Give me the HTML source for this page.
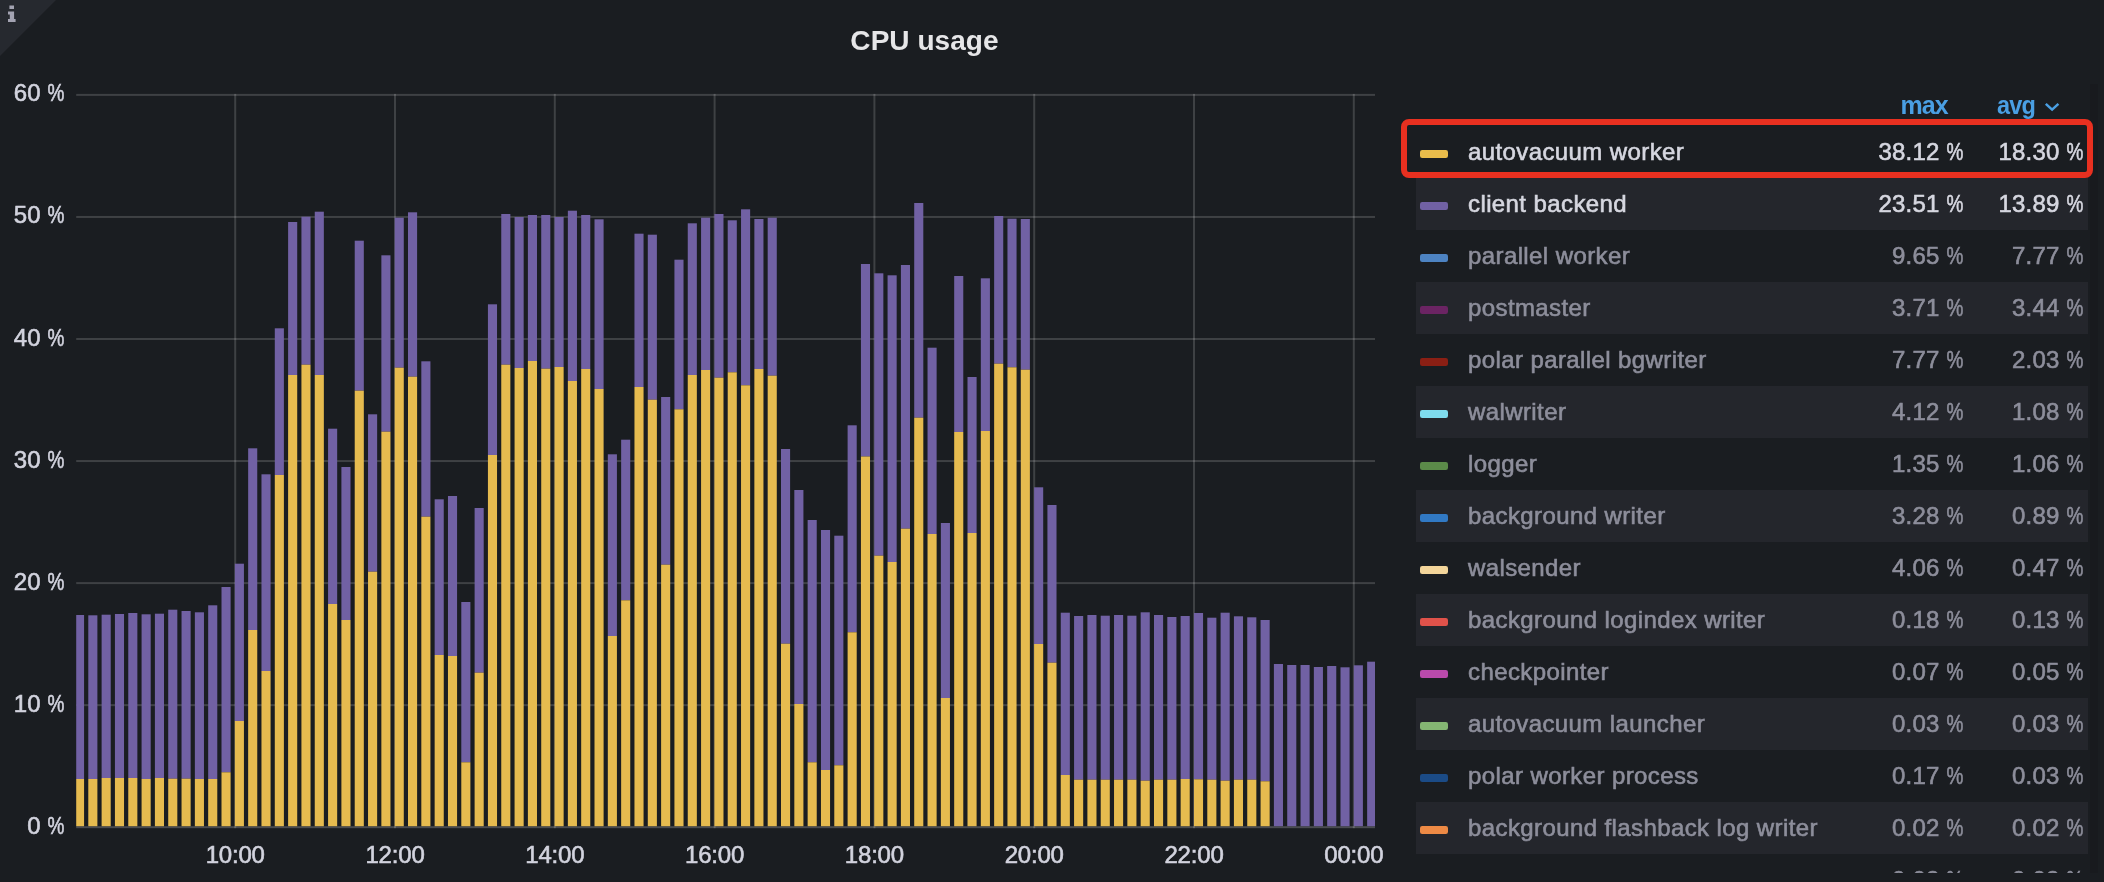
<!DOCTYPE html>
<html><head><meta charset="utf-8"><title>CPU usage</title>
<style>
html,body{margin:0;padding:0}
body{width:2104px;height:882px;overflow:hidden;background:#1a1d21;position:relative;font-family:"Liberation Sans",sans-serif;color:#d2d3de}
.txt{position:absolute;left:0;top:0;width:2104px;height:882px;will-change:transform}
.corner{position:absolute;left:0;top:0;width:0;height:0;border-top:56px solid #26292f;border-right:56px solid transparent}
.title{position:absolute;left:0;top:23px;width:1849px;text-align:center;font-size:28px;line-height:36px;font-weight:bold;color:#e6e6e8;letter-spacing:0.05px}
.yl,.xl,.row{-webkit-text-stroke:0.6px currentColor}
.yl{position:absolute;left:0;width:64px;text-align:right;font-size:24px;line-height:30px;height:30px;color:#d2d3de;white-space:nowrap}
.xl{position:absolute;top:840px;width:100px;text-align:center;font-size:24px;line-height:30px;color:#d2d3de;white-space:nowrap;letter-spacing:-0.2px}
.legend{position:absolute;left:0;top:0;width:2104px;height:872.5px;overflow:hidden}
.row{position:absolute;left:1416px;width:672px;height:52px;font-size:24px;line-height:52px;color:#8d8e9b;white-space:nowrap}
.row.alt{background:#24262c}
.row.on{color:#d6d7e0}
.pc{display:inline-block;transform:scaleX(0.79);transform-origin:right center;margin-left:-4.5px}
.sw{position:absolute;left:4px;top:23.8px;width:28px;height:8.4px;border-radius:2.2px}
.nm{position:absolute;left:52px;top:0;letter-spacing:0.4px}
.mx{position:absolute;right:124.5px;top:0;text-align:right;letter-spacing:0.2px}
.av{position:absolute;right:4.5px;top:0;text-align:right;letter-spacing:0.2px}
.hd{position:absolute;top:90px;font-size:25px;line-height:30px;font-weight:bold;color:#4a9fe3;white-space:nowrap;letter-spacing:-0.9px}
.red{position:absolute;left:1400.5px;top:118.9px;width:680.1px;height:47px;border:6.2px solid #e83020;border-radius:8px;box-sizing:content-box}
</style></head><body>
<div class="corner"></div>
<svg width="24" height="24" viewBox="0 0 24 24" style="position:absolute;left:0;top:0"><path d="M9.4 5.4h4.6v3.7H9.4z M8 11.6h6.1v7.3h1.5v3H8v-3h1.8v-4.4H8z" fill="#a3a3b2"/></svg>
<div class="txt"><div class="title">CPU usage</div>
<svg width="2104" height="882" viewBox="0 0 2104 882" style="position:absolute;left:0;top:0" shape-rendering="auto"><defs><clipPath id="c"><rect x="76.2" y="80" width="1298.8" height="760"/></clipPath></defs><rect x="76.2" y="93.90" width="1298.8" height="2" fill="rgba(255,255,255,0.16)"/><rect x="76.2" y="215.95" width="1298.8" height="2" fill="rgba(255,255,255,0.16)"/><rect x="76.2" y="338.00" width="1298.8" height="2" fill="rgba(255,255,255,0.16)"/><rect x="76.2" y="460.05" width="1298.8" height="2" fill="rgba(255,255,255,0.16)"/><rect x="76.2" y="582.10" width="1298.8" height="2" fill="rgba(255,255,255,0.16)"/><rect x="76.2" y="704.15" width="1298.8" height="2" fill="rgba(255,255,255,0.16)"/><rect x="76.2" y="826.20" width="1298.8" height="2" fill="rgba(255,255,255,0.21)"/><rect x="234.20" y="93.9" width="2" height="734.30" fill="rgba(255,255,255,0.16)"/><rect x="394.00" y="93.9" width="2" height="734.30" fill="rgba(255,255,255,0.16)"/><rect x="553.80" y="93.9" width="2" height="734.30" fill="rgba(255,255,255,0.16)"/><rect x="713.60" y="93.9" width="2" height="734.30" fill="rgba(255,255,255,0.16)"/><rect x="873.40" y="93.9" width="2" height="734.30" fill="rgba(255,255,255,0.16)"/><rect x="1033.20" y="93.9" width="2" height="734.30" fill="rgba(255,255,255,0.16)"/><rect x="1193.00" y="93.9" width="2" height="734.30" fill="rgba(255,255,255,0.16)"/><rect x="1352.80" y="93.9" width="2" height="734.30" fill="rgba(255,255,255,0.16)"/><g clip-path="url(#c)"><rect x="74.97" y="615.00" width="9.1" height="164.00" fill="#7161a4"/><rect x="74.97" y="779.00" width="9.1" height="47.20" fill="#e6bb4f"/><rect x="88.29" y="615.30" width="9.1" height="163.70" fill="#7161a4"/><rect x="88.29" y="779.00" width="9.1" height="47.20" fill="#e6bb4f"/><rect x="101.61" y="614.70" width="9.1" height="163.30" fill="#7161a4"/><rect x="101.61" y="778.00" width="9.1" height="48.20" fill="#e6bb4f"/><rect x="114.93" y="614.00" width="9.1" height="164.00" fill="#7161a4"/><rect x="114.93" y="778.00" width="9.1" height="48.20" fill="#e6bb4f"/><rect x="128.26" y="613.00" width="9.1" height="165.00" fill="#7161a4"/><rect x="128.26" y="778.00" width="9.1" height="48.20" fill="#e6bb4f"/><rect x="141.58" y="614.30" width="9.1" height="164.70" fill="#7161a4"/><rect x="141.58" y="779.00" width="9.1" height="47.20" fill="#e6bb4f"/><rect x="154.90" y="613.70" width="9.1" height="164.30" fill="#7161a4"/><rect x="154.90" y="778.00" width="9.1" height="48.20" fill="#e6bb4f"/><rect x="168.22" y="609.70" width="9.1" height="169.00" fill="#7161a4"/><rect x="168.22" y="778.70" width="9.1" height="47.50" fill="#e6bb4f"/><rect x="181.54" y="611.00" width="9.1" height="167.70" fill="#7161a4"/><rect x="181.54" y="778.70" width="9.1" height="47.50" fill="#e6bb4f"/><rect x="194.86" y="612.30" width="9.1" height="166.70" fill="#7161a4"/><rect x="194.86" y="779.00" width="9.1" height="47.20" fill="#e6bb4f"/><rect x="208.18" y="605.30" width="9.1" height="173.70" fill="#7161a4"/><rect x="208.18" y="779.00" width="9.1" height="47.20" fill="#e6bb4f"/><rect x="221.50" y="587.00" width="9.1" height="185.30" fill="#7161a4"/><rect x="221.50" y="772.30" width="9.1" height="53.90" fill="#e6bb4f"/><rect x="234.83" y="563.70" width="9.1" height="157.30" fill="#7161a4"/><rect x="234.83" y="721.00" width="9.1" height="105.20" fill="#e6bb4f"/><rect x="248.15" y="448.30" width="9.1" height="181.70" fill="#7161a4"/><rect x="248.15" y="630.00" width="9.1" height="196.20" fill="#e6bb4f"/><rect x="261.47" y="474.30" width="9.1" height="196.70" fill="#7161a4"/><rect x="261.47" y="671.00" width="9.1" height="155.20" fill="#e6bb4f"/><rect x="274.79" y="328.30" width="9.1" height="146.70" fill="#7161a4"/><rect x="274.79" y="475.00" width="9.1" height="351.20" fill="#e6bb4f"/><rect x="288.11" y="222.00" width="9.1" height="153.00" fill="#7161a4"/><rect x="288.11" y="375.00" width="9.1" height="451.20" fill="#e6bb4f"/><rect x="301.43" y="216.70" width="9.1" height="148.00" fill="#7161a4"/><rect x="301.43" y="364.70" width="9.1" height="461.50" fill="#e6bb4f"/><rect x="314.75" y="211.70" width="9.1" height="163.30" fill="#7161a4"/><rect x="314.75" y="375.00" width="9.1" height="451.20" fill="#e6bb4f"/><rect x="328.07" y="428.70" width="9.1" height="175.30" fill="#7161a4"/><rect x="328.07" y="604.00" width="9.1" height="222.20" fill="#e6bb4f"/><rect x="341.40" y="467.00" width="9.1" height="153.00" fill="#7161a4"/><rect x="341.40" y="620.00" width="9.1" height="206.20" fill="#e6bb4f"/><rect x="354.72" y="240.70" width="9.1" height="150.00" fill="#7161a4"/><rect x="354.72" y="390.70" width="9.1" height="435.50" fill="#e6bb4f"/><rect x="368.04" y="414.30" width="9.1" height="157.40" fill="#7161a4"/><rect x="368.04" y="571.70" width="9.1" height="254.50" fill="#e6bb4f"/><rect x="381.36" y="255.30" width="9.1" height="176.40" fill="#7161a4"/><rect x="381.36" y="431.70" width="9.1" height="394.50" fill="#e6bb4f"/><rect x="394.68" y="217.70" width="9.1" height="150.00" fill="#7161a4"/><rect x="394.68" y="367.70" width="9.1" height="458.50" fill="#e6bb4f"/><rect x="408.00" y="212.30" width="9.1" height="164.40" fill="#7161a4"/><rect x="408.00" y="376.70" width="9.1" height="449.50" fill="#e6bb4f"/><rect x="421.32" y="361.30" width="9.1" height="155.40" fill="#7161a4"/><rect x="421.32" y="516.70" width="9.1" height="309.50" fill="#e6bb4f"/><rect x="434.65" y="499.30" width="9.1" height="155.70" fill="#7161a4"/><rect x="434.65" y="655.00" width="9.1" height="171.20" fill="#e6bb4f"/><rect x="447.97" y="496.00" width="9.1" height="160.00" fill="#7161a4"/><rect x="447.97" y="656.00" width="9.1" height="170.20" fill="#e6bb4f"/><rect x="461.29" y="602.00" width="9.1" height="160.30" fill="#7161a4"/><rect x="461.29" y="762.30" width="9.1" height="63.90" fill="#e6bb4f"/><rect x="474.61" y="508.00" width="9.1" height="164.70" fill="#7161a4"/><rect x="474.61" y="672.70" width="9.1" height="153.50" fill="#e6bb4f"/><rect x="487.93" y="304.30" width="9.1" height="150.70" fill="#7161a4"/><rect x="487.93" y="455.00" width="9.1" height="371.20" fill="#e6bb4f"/><rect x="501.25" y="214.00" width="9.1" height="150.70" fill="#7161a4"/><rect x="501.25" y="364.70" width="9.1" height="461.50" fill="#e6bb4f"/><rect x="514.57" y="217.00" width="9.1" height="151.00" fill="#7161a4"/><rect x="514.57" y="368.00" width="9.1" height="458.20" fill="#e6bb4f"/><rect x="527.89" y="215.00" width="9.1" height="146.00" fill="#7161a4"/><rect x="527.89" y="361.00" width="9.1" height="465.20" fill="#e6bb4f"/><rect x="541.22" y="215.00" width="9.1" height="153.70" fill="#7161a4"/><rect x="541.22" y="368.70" width="9.1" height="457.50" fill="#e6bb4f"/><rect x="554.54" y="217.00" width="9.1" height="150.00" fill="#7161a4"/><rect x="554.54" y="367.00" width="9.1" height="459.20" fill="#e6bb4f"/><rect x="567.86" y="210.70" width="9.1" height="170.30" fill="#7161a4"/><rect x="567.86" y="381.00" width="9.1" height="445.20" fill="#e6bb4f"/><rect x="581.18" y="215.00" width="9.1" height="154.00" fill="#7161a4"/><rect x="581.18" y="369.00" width="9.1" height="457.20" fill="#e6bb4f"/><rect x="594.50" y="219.30" width="9.1" height="169.70" fill="#7161a4"/><rect x="594.50" y="389.00" width="9.1" height="437.20" fill="#e6bb4f"/><rect x="607.82" y="454.30" width="9.1" height="181.70" fill="#7161a4"/><rect x="607.82" y="636.00" width="9.1" height="190.20" fill="#e6bb4f"/><rect x="621.14" y="439.70" width="9.1" height="160.60" fill="#7161a4"/><rect x="621.14" y="600.30" width="9.1" height="225.90" fill="#e6bb4f"/><rect x="634.46" y="233.70" width="9.1" height="153.30" fill="#7161a4"/><rect x="634.46" y="387.00" width="9.1" height="439.20" fill="#e6bb4f"/><rect x="647.79" y="234.70" width="9.1" height="165.00" fill="#7161a4"/><rect x="647.79" y="399.70" width="9.1" height="426.50" fill="#e6bb4f"/><rect x="661.11" y="397.00" width="9.1" height="167.70" fill="#7161a4"/><rect x="661.11" y="564.70" width="9.1" height="261.50" fill="#e6bb4f"/><rect x="674.43" y="259.70" width="9.1" height="149.60" fill="#7161a4"/><rect x="674.43" y="409.30" width="9.1" height="416.90" fill="#e6bb4f"/><rect x="687.75" y="223.30" width="9.1" height="151.70" fill="#7161a4"/><rect x="687.75" y="375.00" width="9.1" height="451.20" fill="#e6bb4f"/><rect x="701.07" y="217.70" width="9.1" height="152.30" fill="#7161a4"/><rect x="701.07" y="370.00" width="9.1" height="456.20" fill="#e6bb4f"/><rect x="714.39" y="214.00" width="9.1" height="163.70" fill="#7161a4"/><rect x="714.39" y="377.70" width="9.1" height="448.50" fill="#e6bb4f"/><rect x="727.71" y="220.30" width="9.1" height="152.00" fill="#7161a4"/><rect x="727.71" y="372.30" width="9.1" height="453.90" fill="#e6bb4f"/><rect x="741.04" y="209.30" width="9.1" height="176.00" fill="#7161a4"/><rect x="741.04" y="385.30" width="9.1" height="440.90" fill="#e6bb4f"/><rect x="754.36" y="219.00" width="9.1" height="150.00" fill="#7161a4"/><rect x="754.36" y="369.00" width="9.1" height="457.20" fill="#e6bb4f"/><rect x="767.68" y="217.70" width="9.1" height="158.00" fill="#7161a4"/><rect x="767.68" y="375.70" width="9.1" height="450.50" fill="#e6bb4f"/><rect x="781.00" y="449.00" width="9.1" height="194.70" fill="#7161a4"/><rect x="781.00" y="643.70" width="9.1" height="182.50" fill="#e6bb4f"/><rect x="794.32" y="490.00" width="9.1" height="214.00" fill="#7161a4"/><rect x="794.32" y="704.00" width="9.1" height="122.20" fill="#e6bb4f"/><rect x="807.64" y="520.00" width="9.1" height="242.30" fill="#7161a4"/><rect x="807.64" y="762.30" width="9.1" height="63.90" fill="#e6bb4f"/><rect x="820.96" y="530.00" width="9.1" height="240.00" fill="#7161a4"/><rect x="820.96" y="770.00" width="9.1" height="56.20" fill="#e6bb4f"/><rect x="834.28" y="535.70" width="9.1" height="229.60" fill="#7161a4"/><rect x="834.28" y="765.30" width="9.1" height="60.90" fill="#e6bb4f"/><rect x="847.61" y="425.30" width="9.1" height="207.00" fill="#7161a4"/><rect x="847.61" y="632.30" width="9.1" height="193.90" fill="#e6bb4f"/><rect x="860.93" y="264.00" width="9.1" height="192.50" fill="#7161a4"/><rect x="860.93" y="456.50" width="9.1" height="369.70" fill="#e6bb4f"/><rect x="874.25" y="273.30" width="9.1" height="282.40" fill="#7161a4"/><rect x="874.25" y="555.70" width="9.1" height="270.50" fill="#e6bb4f"/><rect x="887.57" y="275.30" width="9.1" height="286.70" fill="#7161a4"/><rect x="887.57" y="562.00" width="9.1" height="264.20" fill="#e6bb4f"/><rect x="900.89" y="265.00" width="9.1" height="263.70" fill="#7161a4"/><rect x="900.89" y="528.70" width="9.1" height="297.50" fill="#e6bb4f"/><rect x="914.21" y="203.00" width="9.1" height="214.70" fill="#7161a4"/><rect x="914.21" y="417.70" width="9.1" height="408.50" fill="#e6bb4f"/><rect x="927.53" y="347.70" width="9.1" height="186.30" fill="#7161a4"/><rect x="927.53" y="534.00" width="9.1" height="292.20" fill="#e6bb4f"/><rect x="940.85" y="523.00" width="9.1" height="175.00" fill="#7161a4"/><rect x="940.85" y="698.00" width="9.1" height="128.20" fill="#e6bb4f"/><rect x="954.18" y="276.00" width="9.1" height="156.00" fill="#7161a4"/><rect x="954.18" y="432.00" width="9.1" height="394.20" fill="#e6bb4f"/><rect x="967.50" y="377.00" width="9.1" height="156.00" fill="#7161a4"/><rect x="967.50" y="533.00" width="9.1" height="293.20" fill="#e6bb4f"/><rect x="980.82" y="278.30" width="9.1" height="152.70" fill="#7161a4"/><rect x="980.82" y="431.00" width="9.1" height="395.20" fill="#e6bb4f"/><rect x="994.14" y="216.00" width="9.1" height="147.70" fill="#7161a4"/><rect x="994.14" y="363.70" width="9.1" height="462.50" fill="#e6bb4f"/><rect x="1007.46" y="218.70" width="9.1" height="148.60" fill="#7161a4"/><rect x="1007.46" y="367.30" width="9.1" height="458.90" fill="#e6bb4f"/><rect x="1020.78" y="219.00" width="9.1" height="150.70" fill="#7161a4"/><rect x="1020.78" y="369.70" width="9.1" height="456.50" fill="#e6bb4f"/><rect x="1034.10" y="487.30" width="9.1" height="156.70" fill="#7161a4"/><rect x="1034.10" y="644.00" width="9.1" height="182.20" fill="#e6bb4f"/><rect x="1047.42" y="505.00" width="9.1" height="157.70" fill="#7161a4"/><rect x="1047.42" y="662.70" width="9.1" height="163.50" fill="#e6bb4f"/><rect x="1060.75" y="612.70" width="9.1" height="162.30" fill="#7161a4"/><rect x="1060.75" y="775.00" width="9.1" height="51.20" fill="#e6bb4f"/><rect x="1074.07" y="616.00" width="9.1" height="163.70" fill="#7161a4"/><rect x="1074.07" y="779.70" width="9.1" height="46.50" fill="#e6bb4f"/><rect x="1087.39" y="615.00" width="9.1" height="164.70" fill="#7161a4"/><rect x="1087.39" y="779.70" width="9.1" height="46.50" fill="#e6bb4f"/><rect x="1100.71" y="615.70" width="9.1" height="164.00" fill="#7161a4"/><rect x="1100.71" y="779.70" width="9.1" height="46.50" fill="#e6bb4f"/><rect x="1114.03" y="615.00" width="9.1" height="164.70" fill="#7161a4"/><rect x="1114.03" y="779.70" width="9.1" height="46.50" fill="#e6bb4f"/><rect x="1127.35" y="615.70" width="9.1" height="164.00" fill="#7161a4"/><rect x="1127.35" y="779.70" width="9.1" height="46.50" fill="#e6bb4f"/><rect x="1140.67" y="612.30" width="9.1" height="168.40" fill="#7161a4"/><rect x="1140.67" y="780.70" width="9.1" height="45.50" fill="#e6bb4f"/><rect x="1154.00" y="615.00" width="9.1" height="164.70" fill="#7161a4"/><rect x="1154.00" y="779.70" width="9.1" height="46.50" fill="#e6bb4f"/><rect x="1167.32" y="617.00" width="9.1" height="162.70" fill="#7161a4"/><rect x="1167.32" y="779.70" width="9.1" height="46.50" fill="#e6bb4f"/><rect x="1180.64" y="616.00" width="9.1" height="163.00" fill="#7161a4"/><rect x="1180.64" y="779.00" width="9.1" height="47.20" fill="#e6bb4f"/><rect x="1193.96" y="613.00" width="9.1" height="166.30" fill="#7161a4"/><rect x="1193.96" y="779.30" width="9.1" height="46.90" fill="#e6bb4f"/><rect x="1207.28" y="617.70" width="9.1" height="162.00" fill="#7161a4"/><rect x="1207.28" y="779.70" width="9.1" height="46.50" fill="#e6bb4f"/><rect x="1220.60" y="612.70" width="9.1" height="168.00" fill="#7161a4"/><rect x="1220.60" y="780.70" width="9.1" height="45.50" fill="#e6bb4f"/><rect x="1233.92" y="616.30" width="9.1" height="163.40" fill="#7161a4"/><rect x="1233.92" y="779.70" width="9.1" height="46.50" fill="#e6bb4f"/><rect x="1247.24" y="617.30" width="9.1" height="162.40" fill="#7161a4"/><rect x="1247.24" y="779.70" width="9.1" height="46.50" fill="#e6bb4f"/><rect x="1260.57" y="620.00" width="9.1" height="161.30" fill="#7161a4"/><rect x="1260.57" y="781.30" width="9.1" height="44.90" fill="#e6bb4f"/><rect x="1273.89" y="664.00" width="9.1" height="162.20" fill="#7161a4"/><rect x="1287.21" y="665.00" width="9.1" height="161.20" fill="#7161a4"/><rect x="1300.53" y="665.00" width="9.1" height="161.20" fill="#7161a4"/><rect x="1313.85" y="667.00" width="9.1" height="159.20" fill="#7161a4"/><rect x="1327.17" y="666.00" width="9.1" height="160.20" fill="#7161a4"/><rect x="1340.49" y="667.30" width="9.1" height="158.90" fill="#7161a4"/><rect x="1353.81" y="665.30" width="9.1" height="160.90" fill="#7161a4"/><rect x="1367.14" y="661.70" width="9.1" height="164.50" fill="#7161a4"/></g></svg>
<div class="yl" style="top:78.4px">60 <span class="pc">%</span></div><div class="yl" style="top:200.4px">50 <span class="pc">%</span></div><div class="yl" style="top:322.5px">40 <span class="pc">%</span></div><div class="yl" style="top:444.5px">30 <span class="pc">%</span></div><div class="yl" style="top:566.6px">20 <span class="pc">%</span></div><div class="yl" style="top:688.6px">10 <span class="pc">%</span></div><div class="yl" style="top:810.7px">0 <span class="pc">%</span></div>
<div class="xl" style="left:185.2px">10:00</div><div class="xl" style="left:345.0px">12:00</div><div class="xl" style="left:504.8px">14:00</div><div class="xl" style="left:664.6px">16:00</div><div class="xl" style="left:824.4px">18:00</div><div class="xl" style="left:984.2px">20:00</div><div class="xl" style="left:1144.0px">22:00</div><div class="xl" style="left:1303.8px">00:00</div>
<div class="hd" style="left:1900.5px">max</div>
<div class="hd" style="left:1997px;transform:scaleX(0.94);transform-origin:left center">avg</div>
<svg width="2104" height="140" viewBox="0 0 2104 140" style="position:absolute;left:0;top:0"><path d="M2045.8 103.8 L2052.1 109.6 L2058.4 103.8" fill="none" stroke="#4a9fe3" stroke-width="2.5" stroke-linecap="butt" stroke-linejoin="miter"/></svg>
<div class="legend">
<div class="row on" style="top:126px"><span class="sw" style="background:#e9bc4b"></span><span class="nm">autovacuum worker</span><span class="mx">38.12 <span class="pc">%</span></span><span class="av">18.30 <span class="pc">%</span></span></div><div class="row alt on" style="top:178px"><span class="sw" style="background:#7161a4"></span><span class="nm">client backend</span><span class="mx">23.51 <span class="pc">%</span></span><span class="av">13.89 <span class="pc">%</span></span></div><div class="row" style="top:230px"><span class="sw" style="background:#4d83c2"></span><span class="nm">parallel worker</span><span class="mx">9.65 <span class="pc">%</span></span><span class="av">7.77 <span class="pc">%</span></span></div><div class="row alt" style="top:282px"><span class="sw" style="background:#6b2463"></span><span class="nm">postmaster</span><span class="mx">3.71 <span class="pc">%</span></span><span class="av">3.44 <span class="pc">%</span></span></div><div class="row" style="top:334px"><span class="sw" style="background:#8a1f14"></span><span class="nm">polar parallel bgwriter</span><span class="mx">7.77 <span class="pc">%</span></span><span class="av">2.03 <span class="pc">%</span></span></div><div class="row alt" style="top:386px"><span class="sw" style="background:#7fdcee"></span><span class="nm">walwriter</span><span class="mx">4.12 <span class="pc">%</span></span><span class="av">1.08 <span class="pc">%</span></span></div><div class="row" style="top:438px"><span class="sw" style="background:#5b8a49"></span><span class="nm">logger</span><span class="mx">1.35 <span class="pc">%</span></span><span class="av">1.06 <span class="pc">%</span></span></div><div class="row alt" style="top:490px"><span class="sw" style="background:#3179c4"></span><span class="nm">background writer</span><span class="mx">3.28 <span class="pc">%</span></span><span class="av">0.89 <span class="pc">%</span></span></div><div class="row" style="top:542px"><span class="sw" style="background:#f3d59a"></span><span class="nm">walsender</span><span class="mx">4.06 <span class="pc">%</span></span><span class="av">0.47 <span class="pc">%</span></span></div><div class="row alt" style="top:594px"><span class="sw" style="background:#e0524a"></span><span class="nm">background logindex writer</span><span class="mx">0.18 <span class="pc">%</span></span><span class="av">0.13 <span class="pc">%</span></span></div><div class="row" style="top:646px"><span class="sw" style="background:#b94aab"></span><span class="nm">checkpointer</span><span class="mx">0.07 <span class="pc">%</span></span><span class="av">0.05 <span class="pc">%</span></span></div><div class="row alt" style="top:698px"><span class="sw" style="background:#84b673"></span><span class="nm">autovacuum launcher</span><span class="mx">0.03 <span class="pc">%</span></span><span class="av">0.03 <span class="pc">%</span></span></div><div class="row" style="top:750px"><span class="sw" style="background:#1b4b86"></span><span class="nm">polar worker process</span><span class="mx">0.17 <span class="pc">%</span></span><span class="av">0.03 <span class="pc">%</span></span></div><div class="row alt" style="top:802px"><span class="sw" style="background:#ee8a45"></span><span class="nm">background flashback log writer</span><span class="mx">0.02 <span class="pc">%</span></span><span class="av">0.02 <span class="pc">%</span></span></div><div class="row" style="top:854px"><span class="nm"></span><span class="mx">0.02 <span class="pc">%</span></span><span class="av">0.02 <span class="pc">%</span></span></div>
</div>
</div><div style="position:absolute;left:2089.5px;top:84px;width:8.5px;height:789px;background:rgba(0,0,0,0.07)"></div><div class="red"></div>
</body></html>
